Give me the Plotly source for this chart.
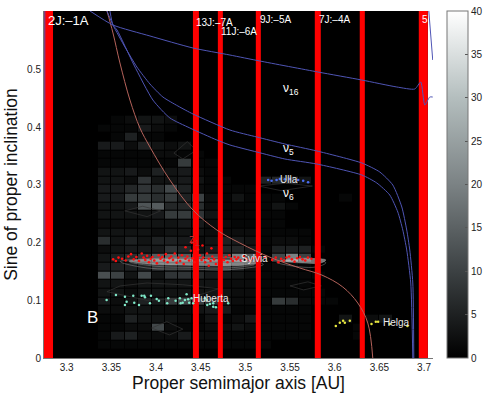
import plotly.graph_objects as go

# 2D histogram of asteroid counts: rows start at sin i = 0, step 0.015; columns start at a = 3.335, step 0.015
bin_size = 0.015
col_start = 3.335
counts = [
    [0, 0, 0, 0, 0, 0, 0, 0, 0, 0, 0, 0, 0, 0, 0, 0, 0, 0, 0, 0, 0, 0],
    [1, 1, 1, 1, 1, 1, 1, 1, 1, 1, 1, 1, 1, 0, 0, 0, 0, 0, 0, 0, 0, 0],
    [1, 4, 5, 2, 2, 2, 4, 2, 2, 1, 1, 1, 1, 1, 1, 1, 0, 0, 0, 1, 0, 0],
    [1, 1, 2, 2, 11, 2, 1, 1, 2, 2, 3, 2, 1, 1, 1, 1, 0, 0, 0, 1, 0, 0],
    [1, 1, 5, 3, 3, 3, 2, 1, 3, 1, 2, 4, 1, 1, 1, 1, 0, 0, 3, 0, 2, 3],
    [2, 2, 3, 3, 2, 2, 2, 3, 4, 4, 1, 1, 1, 1, 1, 1, 0, 0, 0, 0, 0, 0],
    [4, 2, 3, 5, 4, 9, 11, 10, 8, 4, 2, 2, 1, 9, 7, 2, 1, 1, 0, 0, 0, 0],
    [3, 3, 2, 3, 3, 3, 3, 3, 3, 3, 2, 2, 1, 1, 1, 1, 1, 0, 0, 0, 0, 0],
    [3, 3, 2, 3, 3, 3, 3, 3, 3, 2, 2, 2, 1, 1, 1, 1, 0, 0, 0, 0, 0, 0],
    [12, 10, 3, 11, 3, 8, 8, 6, 4, 4, 3, 2, 1, 1, 1, 1, 1, 0, 0, 0, 0, 0],
    [4, 5, 5, 5, 8, 7, 6, 5, 5, 10, 6, 3, 1, 2, 2, 1, 0, 0, 0, 0, 0, 0],
    [3, 5, 7, 9, 14, 16, 14, 12, 12, 11, 20, 14, 1, 11, 20, 10, 0, 0, 0, 0, 0, 0],
    [2, 3, 4, 4, 4, 8, 6, 3, 4, 6, 6, 4, 1, 5, 5, 5, 1, 0, 0, 0, 0, 0],
    [7, 3, 5, 3, 5, 5, 4, 2, 3, 5, 4, 3, 1, 2, 2, 1, 0, 0, 0, 0, 0, 0],
    [3, 3, 3, 3, 2, 3, 3, 3, 2, 2, 2, 2, 1, 1, 1, 1, 0, 0, 0, 0, 0, 0],
    [2, 2, 2, 3, 3, 3, 4, 4, 2, 2, 1, 1, 1, 1, 0, 0, 0, 0, 0, 0, 0, 0],
    [3, 3, 3, 3, 4, 9, 9, 8, 3, 1, 1, 1, 1, 1, 0, 0, 0, 0, 0, 0, 0, 0],
    [3, 3, 4, 13, 14, 6, 6, 7, 2, 1, 1, 1, 1, 3, 1, 0, 0, 0, 0, 0, 0, 0],
    [4, 4, 9, 9, 7, 9, 5, 10, 2, 1, 3, 1, 1, 1, 0, 0, 0, 0, 1, 0, 0, 0],
    [4, 4, 6, 8, 7, 11, 5, 2, 1, 1, 1, 1, 0, 0, 0, 0, 0, 0, 0, 0, 0, 0],
    [3, 3, 2, 8, 3, 3, 4, 3, 1, 1, 0, 0, 5, 6, 6, 3, 0, 0, 0, 0, 0, 0],
    [3, 3, 4, 2, 5, 3, 4, 2, 1, 0, 0, 0, 0, 0, 0, 0, 0, 0, 0, 0, 0, 0],
    [1, 1, 1, 1, 1, 1, 9, 1, 1, 0, 0, 0, 0, 0, 0, 0, 0, 0, 0, 0, 0, 0],
    [1, 1, 1, 1, 2, 2, 1, 1, 0, 0, 0, 0, 0, 0, 0, 0, 0, 0, 0, 0, 0, 0],
    [4, 4, 2, 5, 3, 2, 3, 0, 0, 0, 0, 0, 0, 0, 0, 0, 0, 0, 0, 0, 0, 0],
    [0, 1, 5, 1, 1, 0, 0, 0, 0, 0, 0, 0, 0, 0, 0, 0, 0, 0, 0, 0, 0, 0],
    [1, 1, 1, 4, 2, 1, 0, 0, 0, 0, 0, 0, 0, 0, 0, 0, 0, 0, 0, 0, 0, 0],
    [0, 1, 2, 3, 3, 2, 0, 0, 0, 0, 0, 0, 0, 0, 0, 0, 0, 0, 0, 0, 0, 0],
]
col_centers = [col_start + (i + 0.5) * bin_size for i in range(len(counts[0]))]
row_centers = [(k + 0.5) * bin_size for k in range(len(counts))]

# mean motion resonances, left and right edge in AU
res_left = [3.2746, 3.4413, 3.4692, 3.5117, 3.5777, 3.628, 3.6941]
res_right = [3.2847, 3.448, 3.4748, 3.5173, 3.5844, 3.6337, 3.7042]

# secular resonances
nu16_a = [3.3261, 3.3518, 3.3932, 3.4413, 3.4827, 3.5162, 3.5811, 3.6303, 3.6695, 3.6896, 3.6963, 3.7008, 3.7064, 3.7097]
nu16_s = [0.6014, 0.5771, 0.5581, 0.5373, 0.5251, 0.5147, 0.4957, 0.4818, 0.4697, 0.4662, 0.4783, 0.4385, 0.4523, 0.4523]
nu16_top_a = [3.7053, 3.7097]
nu16_top_s = [0.6014, 0.5165]
nu5_a = [3.3451, 3.3518, 3.3652, 3.3786, 3.3932, 3.4077, 3.4245, 3.4413, 3.4827, 3.5129, 3.5442, 3.58, 3.6303, 3.6504, 3.665, 3.6751, 3.6806, 3.684, 3.6874, 3.6885]
nu5_s = [0.6014, 0.5771, 0.539, 0.5043, 0.4749, 0.4523, 0.4367, 0.4229, 0.3951, 0.383, 0.3709, 0.3588, 0.338, 0.3224, 0.2998, 0.2617, 0.2218, 0.1872, 0.13, 0.0]
nu6_a = [3.3484, 3.3518, 3.3563, 3.3753, 3.3965, 3.4155, 3.4379, 3.4681, 3.4827, 3.5129, 3.5442, 3.58, 3.6303, 3.6471, 3.6616, 3.6706, 3.6762, 3.6806, 3.6851, 3.6874]
nu6_s = [0.6014, 0.5771, 0.5685, 0.5078, 0.4471, 0.416, 0.3986, 0.3778, 0.3692, 0.357, 0.3449, 0.3362, 0.3172, 0.3033, 0.2825, 0.253, 0.2218, 0.1872, 0.13, 0.0]
z1_a = [3.3451, 3.3518, 3.3596, 3.3708, 3.382, 3.3932, 3.4155, 3.4413, 3.4681, 3.4938, 3.5296, 3.5609, 3.5855, 3.609, 3.6258, 3.637, 3.6426]
z1_s = [0.6014, 0.5633, 0.5113, 0.4471, 0.3986, 0.3657, 0.3085, 0.2565, 0.2218, 0.1993, 0.1733, 0.156, 0.1438, 0.1231, 0.0953, 0.0607, 0.0]
left_edge_a = [3.2755, 3.2755]
left_edge_s = [0.6014, 0.135]

# family members
sylvia_a = [3.352, 3.355, 3.358, 3.362, 3.366, 3.369, 3.372, 3.375, 3.378, 3.381, 3.384, 3.386, 3.388, 3.39, 3.392,
            3.394, 3.396, 3.398, 3.401, 3.403, 3.405, 3.407, 3.409, 3.411, 3.413, 3.415, 3.417, 3.419, 3.421, 3.423,
            3.425, 3.427, 3.429, 3.431, 3.433, 3.435, 3.437, 3.439, 3.441, 3.443, 3.449, 3.451, 3.453, 3.455, 3.457,
            3.459, 3.461, 3.463, 3.465, 3.467, 3.476, 3.478, 3.48, 3.482, 3.484, 3.486, 3.488, 3.49, 3.492, 3.495,
            3.498, 3.501, 3.505, 3.509, 3.522, 3.53, 3.534, 3.537, 3.54, 3.543, 3.546, 3.549, 3.552, 3.555, 3.558,
            3.561, 3.564, 3.567, 3.57, 3.574, 3.44, 3.447, 3.452, 3.433, 3.462, 3.459]
sylvia_s = [0.171, 0.168, 0.174, 0.172, 0.169, 0.176, 0.18, 0.171, 0.175, 0.168, 0.181, 0.174, 0.17, 0.177, 0.166,
            0.172, 0.175, 0.169, 0.164, 0.178, 0.172, 0.175, 0.169, 0.18, 0.166, 0.173, 0.176, 0.17, 0.181, 0.165,
            0.174, 0.168, 0.178, 0.163, 0.172, 0.176, 0.169, 0.186, 0.173, 0.166, 0.178, 0.17, 0.174, 0.166, 0.181,
            0.172, 0.168, 0.176, 0.171, 0.163, 0.17, 0.175, 0.166, 0.178, 0.172, 0.168, 0.175, 0.171, 0.174, 0.169,
            0.176, 0.172, 0.169, 0.173, 0.175, 0.17, 0.174, 0.166, 0.172, 0.169, 0.174, 0.176, 0.171, 0.167, 0.173,
            0.175, 0.171, 0.169, 0.174, 0.172, 0.2, 0.188, 0.195, 0.192, 0.19, 0.16]
huberta_a = [3.3447, 3.3551, 3.3652, 3.3671, 3.3652, 3.3745, 3.3756, 3.3809, 3.3839, 3.3868, 3.3876, 3.3932, 3.3943, 3.4007, 3.4032,
             3.4137, 3.4125, 3.4219, 3.4267, 3.4275, 3.4298, 3.4323, 3.4342, 3.436, 3.4371, 3.4398, 3.4416, 3.4547, 3.4566, 3.4573,
             3.4603, 3.464, 3.464, 3.467, 3.4808]
huberta_s = [0.1005, 0.1092, 0.1062, 0.0976, 0.0919, 0.108, 0.0958, 0.0919, 0.108, 0.108, 0.1052, 0.0948, 0.108, 0.1023, 0.0993,
             0.1035, 0.0948, 0.0993, 0.1035, 0.0948, 0.0958, 0.1005, 0.1104, 0.1017, 0.0958, 0.1035, 0.0948, 0.1035, 0.1005, 0.0919,
             0.0936, 0.0948, 0.0889, 0.0879, 0.0948]
ulla_a = [3.5255, 3.5293, 3.5349, 3.5386, 3.5442, 3.5498, 3.5591, 3.5647, 3.5702]
ulla_s = [0.3085, 0.3073, 0.3085, 0.3102, 0.3097, 0.3102, 0.3085, 0.3073, 0.3045]
helga_a = [3.6012, 3.6057, 3.6094, 3.6113, 3.6169, 3.6412, 3.646, 3.6486, 3.6616, 3.6814]
helga_s = [0.0555, 0.0612, 0.0647, 0.0612, 0.0647, 0.0589, 0.0629, 0.0629, 0.0589, 0.0555]

# density contours, None separates the outlines
core_a = [3.37, 3.39, 3.43, 3.47, 3.5, 3.515, 3.49, 3.44, 3.39, 3.37, None,
          3.54, 3.56, 3.585, 3.59, 3.56, 3.54]
core_s = [0.168, 0.163, 0.161, 0.16, 0.161, 0.165, 0.169, 0.171, 0.171, 0.168, None,
          0.168, 0.165, 0.165, 0.17, 0.172, 0.168]
bright_a = [3.36, 3.39, 3.44, 3.48, 3.52, 3.5, 3.44, 3.36, None,
            3.37, 3.4, 3.44, 3.48, 3.51, 3.44, 3.37, None,
            3.535, 3.56, 3.58, 3.59, 3.57, 3.535]
bright_s = [0.167, 0.156, 0.154, 0.153, 0.162, 0.172, 0.174, 0.167, None,
            0.167, 0.159, 0.157, 0.156, 0.162, 0.172, 0.167, None,
            0.166, 0.158, 0.158, 0.165, 0.173, 0.166]
faint_a = [3.345, 3.36, 3.39, 3.43, 3.47, 3.44, 3.39, 3.345, None,
           3.395, 3.412, 3.43, 3.415, 3.395, None,
           3.365, 3.385, 3.405, 3.39, 3.365, None,
           3.43, 3.445, 3.435, 3.42, 3.43, None,
           3.55, 3.57, 3.585, 3.565, 3.55, None,
           3.515, 3.54, 3.575, 3.545, 3.515]
faint_s = [0.115, 0.125, 0.13, 0.127, 0.12, 0.105, 0.1, 0.115, None,
           0.052, 0.063, 0.05, 0.04, 0.052, None,
           0.255, 0.263, 0.255, 0.245, 0.255, None,
           0.345, 0.36, 0.375, 0.355, 0.345, None,
           0.125, 0.132, 0.125, 0.118, 0.125, None,
           0.298, 0.29, 0.298, 0.303, 0.298]

x_ticks = [3.3, 3.35, 3.4, 3.45, 3.5, 3.55, 3.6, 3.65, 3.7]
y_ticks = [0, 0.1, 0.2, 0.3, 0.4, 0.5]
bar_ticks = [0, 5, 10, 15, 20, 25, 30, 35, 40]

gray_scale = [[0, "#000000"], [0.25, "#3c4143"], [0.5, "#7b8284"], [0.75, "#b4bebe"], [1, "#ffffff"]]
font_name = "Liberation Sans"

fig = go.Figure()

fig.add_vrect(x0=res_left[0], x1=res_right[-1], fillcolor="black", line_width=0, layer="below")

fig.add_trace(go.Heatmap(x=col_centers, y=row_centers, z=counts, zmin=0, zmax=40, xgap=1, ygap=1,
                         colorscale=gray_scale, hoverinfo="skip",
                         colorbar=dict(x=1.036, xanchor="left", y=0, yanchor="bottom", len=1, thickness=21,
                                       xpad=0, ypad=0, outlinecolor="#777777", outlinewidth=1, tickvals=bar_ticks,
                                       ticks="inside", ticklen=3, tickcolor="#555555",
                                       tickfont=dict(size=10, color="#222222", family=font_name))))

fig.add_trace(go.Scatter(x=faint_a, y=faint_s, mode="lines", line=dict(color="#333333", width=0.7)))
fig.add_trace(go.Scatter(x=core_a, y=core_s, mode="lines", fill="toself", fillcolor="rgba(225,225,225,0.5)",
                         line=dict(color="#bbbbbb", width=0.4, shape="spline")))
fig.add_trace(go.Scatter(x=bright_a, y=bright_s, mode="lines", line=dict(color="#8c8c8c", width=0.5, shape="spline")))

for left, right in zip(res_left, res_right):
    fig.add_trace(go.Scatter(x=[left, right, right, left], y=[0, 0, 0.6014, 0.6014], mode="lines",
                             fill="toself", fillcolor="#ff0000", line=dict(width=0)))

fig.add_trace(go.Scatter(x=z1_a, y=z1_s, mode="lines", line=dict(color="#b5625a", width=1, shape="spline")))
for xs, ys in [(nu16_a, nu16_s), (nu16_top_a, nu16_top_s), (nu5_a, nu5_s), (nu6_a, nu6_s), (left_edge_a, left_edge_s)]:
    fig.add_trace(go.Scatter(x=xs, y=ys, mode="lines", line=dict(color="#4f55b5", width=1, shape="spline", smoothing=0.6)))

fig.add_trace(go.Scatter(x=sylvia_a, y=sylvia_s, mode="markers", marker=dict(color="#ff1010", size=2.6)))
fig.add_trace(go.Scatter(x=huberta_a, y=huberta_s, mode="markers", marker=dict(color="#7fe8c8", size=2.5)))
fig.add_trace(go.Scatter(x=ulla_a, y=ulla_s, mode="markers", marker=dict(color="#4a6cf0", size=2.6)))
fig.add_trace(go.Scatter(x=helga_a, y=helga_s, mode="markers", marker=dict(color="#e8e840", size=2.5)))

labels = [
    (3.277, 0.585, "2J:\u20131A", 13, "white"),
    (3.4425, 0.582, "13J:\u20137A", 10, "white"),
    (3.4705, 0.566, "11J:\u20136A", 10, "white"),
    (3.5145, 0.587, "9J:\u20135A", 10, "white"),
    (3.5805, 0.587, "7J:\u20134A", 10, "white"),
    (3.695, 0.587, "5", 10, "white"),
    (3.54, 0.467, "\u03bd<sub>16</sub>", 12, "white"),
    (3.54, 0.363, "\u03bd<sub>5</sub>", 12, "white"),
    (3.54, 0.285, "\u03bd<sub>6</sub>", 12, "white"),
    (3.5365, 0.309, "Ulla", 10, "#e8e8e8"),
    (3.4925, 0.172, "Sylvia", 10, "#e8e8e8"),
    (3.4395, 0.1025, "Huberta", 10, "#e8e8e8"),
    (3.652, 0.062, "Helga", 10, "#e8e8e8"),
    (3.3205, 0.07, "B", 17, "white"),
    (3.4345, 0.205, "z<sub>1</sub>", 12, "#c03030"),
]
for lx, ly, text, size, color in labels:
    fig.add_annotation(x=lx, y=ly, text=text, showarrow=False, xanchor="left", xshift=0,
                       font=dict(size=size, color=color, family=font_name))

fig.update_xaxes(range=[3.2746, 3.71], tickvals=x_ticks, ticktext=[str(v) for v in x_ticks], showgrid=False, zeroline=False,
                 showline=True, linecolor="#777777", ticks="", tickfont=dict(size=10, color="#222222", family=font_name),
                 title=dict(text="Proper semimajor axis [AU]", standoff=2, font=dict(size=17.5, color="#111111", family=font_name)))
fig.update_yaxes(range=[0, 0.6014], tickvals=y_ticks, ticktext=[str(v) for v in y_ticks], showgrid=False, zeroline=False,
                 showline=True, linecolor="#777777", ticks="", tickfont=dict(size=10, color="#222222", family=font_name),
                 title=dict(text="Sine of proper inclination", standoff=4, font=dict(size=17.5, color="#111111", family=font_name)))
fig.update_layout(width=485, height=394, margin=dict(l=44, r=52, t=11, b=36, autoexpand=False), showlegend=False,
                  paper_bgcolor="white", plot_bgcolor="white")
# the page keeps the browser's 8px body margin otherwise
fig.write_html("out.html", post_script="document.body.style.margin='0';", config={"displayModeBar": False})
